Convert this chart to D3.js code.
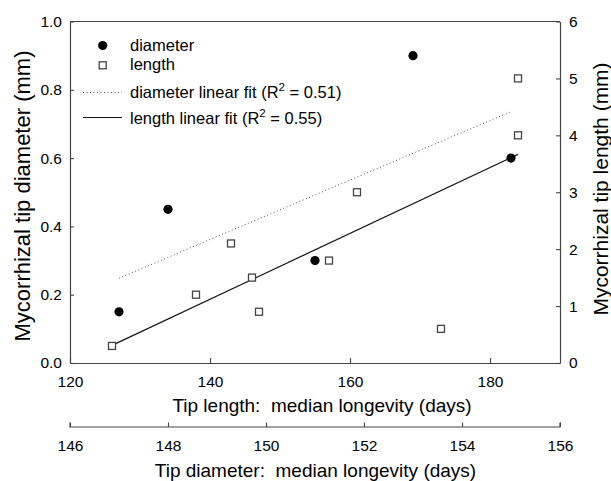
<!DOCTYPE html>
<html>
<head>
<meta charset="utf-8">
<script src="https://cdn.jsdelivr.net/npm/d3@7"></script>
<style>
  html, body { margin: 0; padding: 0; background: #fff; }
  svg { display: block; font-family: "Liberation Sans", Arial, sans-serif; }
  text { white-space: pre; }
</style>
</head>
<body>
<svg id="chart" width="611" height="481"></svg>
<script>
// Mycorrhizal tip diameter (mm) against tip-diameter median longevity (days)
const diameterDays = [147, 148, 151, 153, 155];
const diameterMm   = [0.15, 0.45, 0.30, 0.90, 0.60];

// Mycorrhizal tip length (mm) against tip-length median longevity (days)
const lengthDays = [126, 138, 143, 146, 147, 157, 161, 173, 184, 184];
const lengthMm   = [0.3, 1.2, 2.1, 1.5, 0.9, 1.8, 3.0, 0.6, 4.0, 5.0];

// Axis ticks
const lengthDayTicks   = [120, 140, 160, 180];
const diameterDayTicks = [146, 148, 150, 152, 154, 156];
const diameterMmTicks  = [0, 0.2, 0.4, 0.6, 0.8, 1.0];
const lengthMmTicks    = [0, 1, 2, 3, 4, 5, 6];

// Legend entries
const legendLabels = ["diameter", "length", "diameter linear fit (R", "length linear fit (R"];
const r2Labels = ["0.51", "0.55"];

const svg = d3.select("#chart");
const L = 70, R = 560, T = 21.5, B = 363;
const axisColor = "#444";
const fontFamily = "'Liberation Sans', Arial, sans-serif";

const xLen = d3.scaleLinear().domain([120, 190]).range([L, R]);
const xDia = d3.scaleLinear().domain([146, 156]).range([L, R]);
const yDia = d3.scaleLinear().domain([0, 1]).range([B, T]);
const yLen = d3.scaleLinear().domain([0, 6]).range([B, T]);

// least-squares line over the x extent of the data
function fit(xs, ys) {
  const n = xs.length, mx = d3.mean(xs), my = d3.mean(ys);
  let sxy = 0, sxx = 0;
  for (let i = 0; i < n; i++) { sxy += (xs[i] - mx) * (ys[i] - my); sxx += (xs[i] - mx) ** 2; }
  const b = sxy / sxx, a = my - b * mx;
  const [x0, x1] = d3.extent(xs);
  return [[x0, a + b * x0], [x1, a + b * x1]];
}

function styleAxis(g, size) {
  g.selectAll(".domain").attr("stroke", axisColor).attr("stroke-width", 1.2);
  g.selectAll(".tick line").attr("stroke", axisColor).attr("stroke-width", 1.1);
  g.selectAll(".tick text").attr("fill", "#000").attr("font-size", size)
    .attr("font-family", fontFamily);
}

// top frame line
svg.append("line").attr("x1", L).attr("x2", R).attr("y1", T).attr("y2", T)
  .attr("stroke", axisColor).attr("stroke-width", 1.2);

// left axis: diameter
svg.append("g").attr("transform", `translate(${L},0)`)
  .call(d3.axisLeft(yDia).tickValues(diameterMmTicks).tickFormat(d3.format(".1f"))
    .tickSizeInner(-4).tickSizeOuter(0).tickPadding(8))
  .call(g => styleAxis(g, 15.5));

// right axis: length
svg.append("g").attr("transform", `translate(${R},0)`)
  .call(d3.axisRight(yLen).tickValues(lengthMmTicks).tickFormat(d3.format("d"))
    .tickSizeInner(-4).tickSizeOuter(0).tickPadding(9))
  .call(g => styleAxis(g, 15.5));

// bottom axis: length longevity
svg.append("g").attr("transform", `translate(0,${B})`)
  .call(d3.axisBottom(xLen).tickValues(lengthDayTicks).tickFormat(d3.format("d"))
    .tickSizeInner(-5).tickSizeOuter(0).tickPadding(13))
  .call(g => styleAxis(g, 15.5));

// second bottom axis: diameter longevity
svg.append("g").attr("transform", `translate(0,427)`)
  .call(d3.axisBottom(xDia).tickValues(diameterDayTicks).tickFormat(d3.format("d"))
    .tickSizeInner(-4.5).tickSizeOuter(0).tickPadding(13))
  .call(g => {
    styleAxis(g, 15.5);
    // end caps of the floating axis
    g.select(".domain").attr("d", `M${L},-4.5V0H${R}V-4.5`);
  });

// axis titles
svg.append("text").attr("x", 322).attr("y", 411.5).attr("text-anchor", "middle")
  .attr("font-size", 19).text("Tip length:  median longevity (days)");
svg.append("text").attr("x", 315.5).attr("y", 477).attr("text-anchor", "middle")
  .attr("font-size", 19).text("Tip diameter:  median longevity (days)");
svg.append("text").attr("transform", "translate(30,196) rotate(-90)")
  .attr("text-anchor", "middle").attr("font-size", 22).text("Mycorrhizal tip diameter (mm)");
svg.append("text").attr("transform", "translate(608,189) rotate(-90)")
  .attr("text-anchor", "middle").attr("font-size", 21).text("Mycorrhizal tip length (mm)");

// fit lines
const line = d3.line();
const diaFit = fit(diameterDays, diameterMm);
const lenFit = fit(lengthDays, lengthMm);
svg.append("path")
  .attr("d", line(diaFit.map(([x, y]) => [xDia(x), yDia(y)])))
  .attr("fill", "none").attr("stroke", "#555").attr("stroke-width", 1)
  .attr("stroke-dasharray", "1,2.5");
svg.append("path")
  .attr("d", line(lenFit.map(([x, y]) => [xLen(x), yLen(y)])))
  .attr("fill", "none").attr("stroke", "#111").attr("stroke-width", 1.2);

// length squares
svg.append("g").selectAll("rect").data(d3.range(lengthDays.length)).join("rect")
  .attr("x", i => xLen(lengthDays[i]) - 3.5).attr("y", i => yLen(lengthMm[i]) - 3.5)
  .attr("width", 7).attr("height", 7)
  .attr("fill", "#fff").attr("stroke", "#444").attr("stroke-width", 1.3);

// diameter dots
svg.append("g").selectAll("circle").data(d3.range(diameterDays.length)).join("circle")
  .attr("cx", i => xDia(diameterDays[i])).attr("cy", i => yDia(diameterMm[i]))
  .attr("r", 4.6).attr("fill", "#000");

// legend
const lg = svg.append("g").attr("font-size", 16.5);
const rowY = [50.5, 70, 97.5, 124];
lg.append("circle").attr("cx", 102.7).attr("cy", 45.5).attr("r", 4.6).attr("fill", "#000");
lg.append("rect").attr("x", 99.2).attr("y", 61.8).attr("width", 7).attr("height", 7)
  .attr("fill", "#fff").attr("stroke", "#444").attr("stroke-width", 1.3);
lg.append("line").attr("x1", 83).attr("x2", 122).attr("y1", 92.5).attr("y2", 92.5)
  .attr("stroke", "#555").attr("stroke-width", 1).attr("stroke-dasharray", "1,2.5");
lg.append("line").attr("x1", 83).attr("x2", 122).attr("y1", 117.5).attr("y2", 117.5)
  .attr("stroke", "#111").attr("stroke-width", 1.2);
legendLabels.forEach((lab, i) => {
  const t = lg.append("text").attr("x", 130).attr("y", rowY[i]).text(lab);
  if (i >= 2) {
    t.append("tspan").attr("font-size", 11.5).attr("dy", -7).text("2");
    t.append("tspan").attr("dy", 7).text(" = " + r2Labels[i - 2] + ")");
  }
});
</script>
</body>
</html>
